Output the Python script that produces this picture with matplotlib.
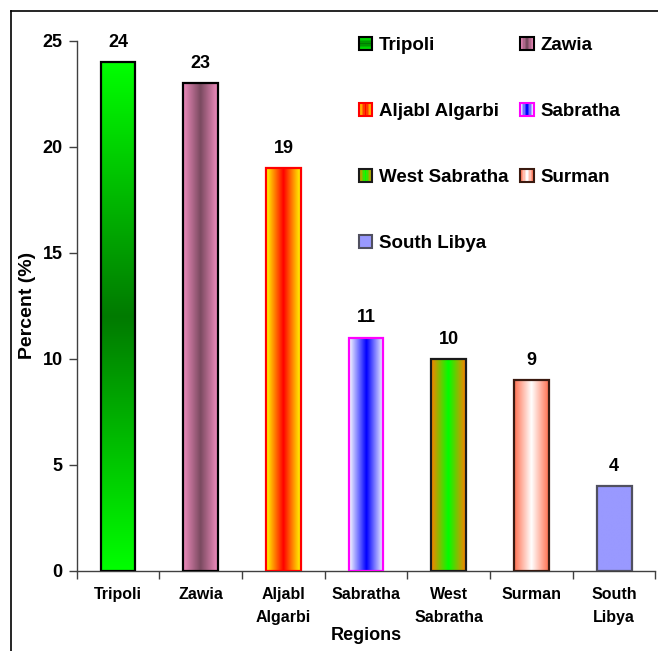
import matplotlib
matplotlib.use("Agg")
import matplotlib.pyplot as plt
import numpy as np
from matplotlib.colors import LinearSegmentedColormap
from matplotlib.patches import Rectangle
from matplotlib.legend_handler import HandlerBase
from matplotlib.lines import Line2D

plt.rcParams['font.family'] = ['Liberation Sans', 'DejaVu Sans']
plt.rcParams['font.weight'] = 'bold'

# data
regions = ["Tripoli", "Zawia", "Aljabl Algarbi", "Sabratha",
           "West Sabratha", "Surman", "South Libya"]
tick_labels = ["Tripoli", "Zawia", "Aljabl\nAlgarbi", "Sabratha",
               "West\nSabratha", "Surman", "South\nLibya"]
percent = [24, 23, 19, 11, 10, 9, 4]

# fill styles: (colour stops, direction, edge colour)
fills = [
    (["#00ff00", "#007a00", "#00ff00"], "v", "#000000"),
    (["#f08cbe", "#7a4a60", "#f08cbe"], "h", "#000000"),
    (["#ffff00", "#ff0000", "#ffff00"], "h", "#ff0000"),
    (["#ffffff", "#0000ff", "#ffffff"], "h", "#ff00ff"),
    (["#ff8000", "#00ff00", "#ff8000"], "h", "#1a1a1a"),
    (["#ff7050", "#ffffff", "#ff7050"], "h", "#3a1a10"),
    (["#9999ff", "#9999ff"], "h", "#505060"),
]


def gradient_image(stops, direction, n=256):
    cmap = LinearSegmentedColormap.from_list("g", stops)
    vals = cmap(np.linspace(0, 1, n))[:, :3]
    if direction == "h":
        return vals[np.newaxis, :, :]
    return vals[:, np.newaxis, :]


class GradientHandler(HandlerBase):
    def create_artists(self, legend, orig_handle, xdescent, ydescent,
                       width, height, fontsize, trans):
        stops, direction, edge = orig_handle.fill_style
        cmap = LinearSegmentedColormap.from_list("g", stops)
        n = 9
        artists = []
        for i in range(n):
            c = cmap((i + 0.5) / n)
            if direction == "h":
                r = Rectangle((-xdescent + width * i / n, -ydescent), width / n, height,
                              facecolor=c, edgecolor="none", transform=trans)
            else:
                r = Rectangle((-xdescent, -ydescent + height * i / n), width, height / n,
                              facecolor=c, edgecolor="none", transform=trans)
            artists.append(r)
        artists.append(Rectangle((-xdescent, -ydescent), width, height,
                                 facecolor="none", edgecolor=edge, lw=1.5,
                                 transform=trans))
        return artists


fig = plt.figure(figsize=(6.58, 6.51), dpi=100)
ax = fig.add_axes([76.7 / 658, 1 - 570.7 / 651, (655.5 - 76.7) / 658, 530 / 651])

x = np.arange(len(regions))
bars = ax.bar(x, percent, width=0.42, facecolor="none", zorder=3)

for bar, (stops, direction, edge) in zip(bars, fills):
    x0, y0 = bar.get_x(), bar.get_y()
    w, h = bar.get_width(), bar.get_height()
    img = ax.imshow(gradient_image(stops, direction), extent=(x0, x0 + w, y0, y0 + h),
                    aspect="auto", interpolation="bilinear", zorder=2)
    img.set_clip_path(bar)
    bar.set_edgecolor(edge)
    bar.set_linewidth(1.6)

for xi, v in zip(x, percent):
    ax.annotate(str(v), (xi, v), xytext=(0, 8), textcoords="offset points",
                ha="center", va="bottom", fontsize=13, fontweight="bold")

ax.set_xlim(-0.5, len(regions) - 0.5)
ax.set_ylim(0, 25)
ax.set_yticks([0, 5, 10, 15, 20, 25])
ax.set_xticks(x)
ax.set_xticklabels(tick_labels, fontsize=11.5, linespacing=1.6)
ax.set_xticks(np.arange(len(regions) + 1) - 0.5, minor=True)
ax.tick_params(axis="x", which="major", length=0, pad=12)
ax.tick_params(axis="x", which="minor", length=6, width=1, color="#404040")
ax.tick_params(axis="y", length=6, width=1, color="#404040", labelsize=13, pad=4)

for side in ("top", "right"):
    ax.spines[side].set_visible(False)
for side in ("left", "bottom"):
    ax.spines[side].set_color("#404040")
    ax.spines[side].set_linewidth(1)

ax.set_ylabel("Percent (%)", fontsize=14, fontweight="bold", labelpad=5)
ax.set_xlabel("Regions", fontsize=13, fontweight="bold", labelpad=2)

proxies = []
for name, style in zip(regions, fills):
    p = Rectangle((0, 0), 1, 1)
    p.fill_style = style
    proxies.append(p)

# legend reads row by row: reorder for column-first filling
order = [0, 2, 4, 6, 1, 3, 5]
fig.legend([proxies[i] for i in order], [regions[i] for i in order],
           handler_map={Rectangle: GradientHandler()},
           loc="upper left", bbox_to_anchor=(359 / 658, 1 - 37 / 651),
           ncol=2, frameon=False, handlelength=0.7, handleheight=0.7,
           handletextpad=0.35, columnspacing=0.65, labelspacing=2.6,
           borderpad=0, borderaxespad=0, prop={"weight": "bold", "size": 13.5})

# outer frame
fig.add_artist(Line2D([11 / 658, 11 / 658], [0, 1 - 11 / 651], color="black", lw=1.2))
fig.add_artist(Line2D([11 / 658, 1], [1 - 11 / 651, 1 - 11 / 651], color="black", lw=1.2))

fig.savefig("out.png", dpi=100)
